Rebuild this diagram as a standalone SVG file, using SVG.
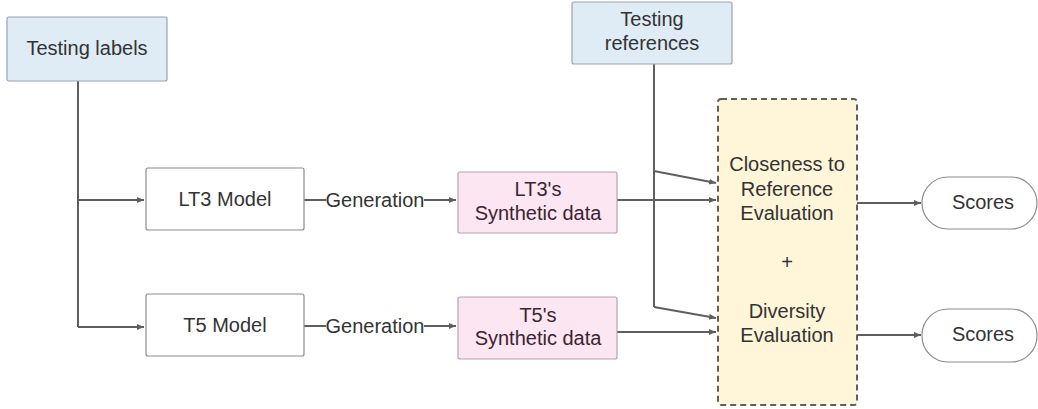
<svg xmlns="http://www.w3.org/2000/svg" width="1038" height="409" viewBox="0 0 1038 409">
<style>
text{font-family:"Liberation Sans",Arial,sans-serif;font-size:20px;fill:#333;text-anchor:middle;dominant-baseline:central}
.blue{fill:#dfebf5;stroke:#9aa3ad;stroke-width:1.2}
.white{fill:#fff;stroke:#8c8c8c;stroke-width:1.2}
.pink{fill:#fce6f2;stroke:#b9a2b0;stroke-width:1.2}
.pink-t{fill:#3b2431}
.yellow{fill:#fff5d9;stroke:#5f5f5f;stroke-width:2;stroke-dasharray:6 4}
.c{fill:none;stroke:#5e5e5e;stroke-width:2}
</style>
<defs>
<marker id="ah" markerWidth="8" markerHeight="8" refX="7" refY="4" orient="auto" markerUnits="userSpaceOnUse">
<path d="M0,1 L7,4 L0,7 Z" fill="#5e5e5e"/>
</marker>
</defs>
<g id="connectors">
<path class="c" d="M78,81 V327"/>
<path class="c" d="M78,200 H144" marker-end="url(#ah)"/>
<path class="c" d="M78,327 H144" marker-end="url(#ah)"/>
<path class="c" d="M304,200 H326"/>
<path class="c" d="M424,200 H456" marker-end="url(#ah)"/>
<path class="c" d="M304,326 H326"/>
<path class="c" d="M424,326 H456" marker-end="url(#ah)"/>
<path class="c" d="M654,64 V307"/>
<path class="c" d="M654,171 L716,183" marker-end="url(#ah)"/>
<path class="c" d="M654,307 L716,318" marker-end="url(#ah)"/>
<path class="c" d="M617,200 H716" marker-end="url(#ah)"/>
<path class="c" d="M617,332 H716" marker-end="url(#ah)"/>
<path class="c" d="M857,203 H921" marker-end="url(#ah)"/>
<path class="c" d="M857,335 H921" marker-end="url(#ah)"/>
<text x="375" y="200">Generation</text>
<text x="375" y="326">Generation</text>
</g>
<g id="testing-labels">
<rect class="blue" x="7" y="17" width="160" height="64" rx="2"/>
<text x="87" y="48">Testing labels</text>
</g>
<g id="testing-references">
<rect class="blue" x="572" y="2" width="160" height="62" rx="2"/>
<text x="652" y="19">Testing</text>
<text x="652" y="43">references</text>
</g>
<g id="lt3-model">
<rect class="white" x="146" y="168" width="158" height="62" rx="2"/>
<text x="225" y="199">LT3 Model</text>
</g>
<g id="t5-model">
<rect class="white" x="146" y="294" width="158" height="62" rx="2"/>
<text x="225" y="325">T5 Model</text>
</g>
<g id="lt3-data">
<rect class="pink" x="458" y="172" width="159" height="61" rx="2"/>
<text class="pink-t" x="538" y="189">LT3's</text>
<text class="pink-t" x="538" y="213">Synthetic data</text>
</g>
<g id="t5-data">
<rect class="pink" x="458" y="297" width="159" height="62" rx="2"/>
<text class="pink-t" x="538" y="315">T5's</text>
<text class="pink-t" x="538" y="338">Synthetic data</text>
</g>
<g id="evaluation">
<rect class="yellow" x="718" y="99" width="139" height="306" rx="3"/>
<text x="787" y="164">Closeness to</text>
<text x="787" y="189">Reference</text>
<text x="787" y="213">Evaluation</text>
<text x="787" y="262">+</text>
<text x="787" y="311">Diversity</text>
<text x="787" y="335">Evaluation</text>
</g>
<g id="scores-1">
<rect class="white" x="922" y="177" width="115" height="52" rx="26"/>
<text x="983" y="202">Scores</text>
</g>
<g id="scores-2">
<rect class="white" x="922" y="309" width="115" height="53" rx="26"/>
<text x="983" y="334">Scores</text>
</g>
</svg>
